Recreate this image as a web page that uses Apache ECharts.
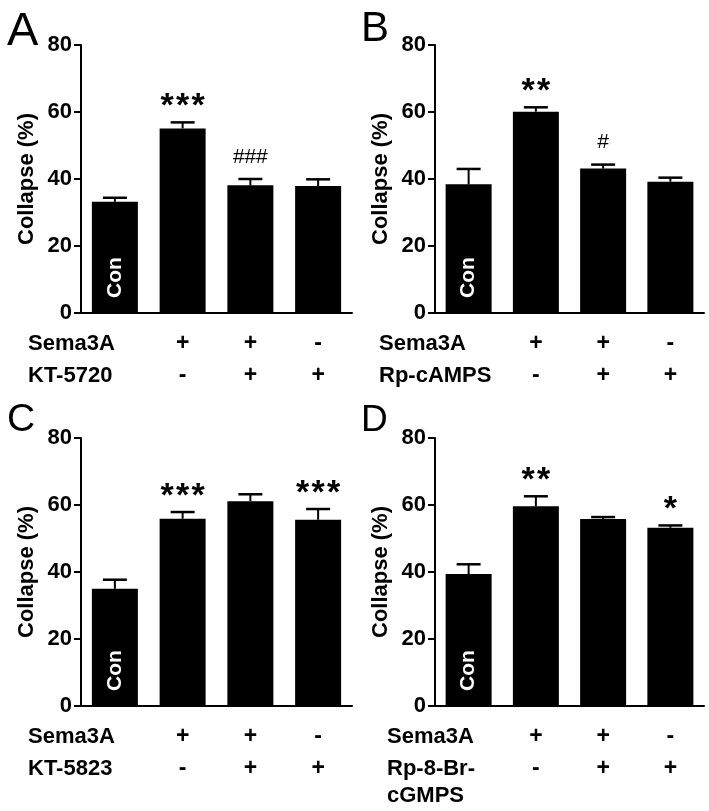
<!DOCTYPE html>
<html>
<head>
<meta charset="utf-8">
<script src="https://cdn.jsdelivr.net/npm/echarts@6/dist/echarts.min.js"></script>
<style>
html,body{margin:0;padding:0;background:#fff;}
#chart{width:709px;height:811px;}
</style>
</head>
<body>
<div id="chart"></div>
<script>
// ---- data ----
const panelLetters = ['A', 'B', 'C', 'D'];
const categories = ['Con', 'Sema3A', 'Sema3A+Drug', 'Drug'];
const conLabel = 'Con';
const yAxisName = 'Collapse (%)';
const semaRowLabel = 'Sema3A';
const drugRowLabels = [['KT-5720'], ['Rp-cAMPS'], ['KT-5823'], ['Rp-8-Br-', 'cGMPS']];
const semaSigns = ['', '+', '+', '-'];
const drugSigns = ['', '-', '+', '+'];

const meansA = [33.2, 55.1, 38.1, 37.9];
const semA   = [1.2, 1.8, 1.9, 2.0];
const annA   = ['', '***', '###', ''];

const meansB = [38.4, 60.1, 43.1, 39.2];
const semB   = [4.6, 1.3, 1.2, 1.2];
const annB   = ['', '**', '#', ''];

const meansC = [35.0, 55.9, 61.1, 55.6];
const semC   = [2.7, 2.0, 2.1, 3.2];
const annC   = ['', '***', '', '***'];

const meansD = [39.4, 59.6, 55.8, 53.2];
const semD   = [2.9, 3.0, 0.6, 0.7];
const annD   = ['', '**', '', '*'];

const yMin = 0, yMax = 80, yInterval = 20;

// ---- layout ----
const FONT = '"Liberation Sans", Arial, Helvetica, sans-serif';
const grids = [
  {left: 81, top: 45, width: 271, height: 268},
  {left: 435, top: 45, width: 269, height: 268},
  {left: 81, top: 438, width: 271, height: 268},
  {left: 435, top: 438, width: 269, height: 268}
];
const panelData = [
  {means: meansA, sem: semA, ann: annA},
  {means: meansB, sem: semB, ann: annB},
  {means: meansC, sem: semC, ann: annC},
  {means: meansD, sem: semD, ann: annD}
];
const letterStyle = [
  {x: 7, y: 47, size: 47},
  {x: 361, y: 43, size: 42},
  {x: 7, y: 433, size: 39},
  {x: 361, y: 433, size: 37}
];
const rowLabelX = [28, 379, 28, 387];

const xAxes = [], yAxes = [], series = [], graphics = [];

grids.forEach((g, p) => {
  xAxes.push({
    type: 'category', gridIndex: p, data: categories, boundaryGap: true,
    axisLine: {show: true, lineStyle: {color: '#000', width: 2}},
    axisTick: {show: false},
    axisLabel: {
      interval: 0, margin: 15,
      formatter: (v, i) => semaSigns[i] + '\n' + drugSigns[i],
      color: '#000', fontFamily: FONT, fontWeight: 'bold', fontSize: 23, lineHeight: 32
    },
    splitLine: {show: false}
  });
  yAxes.push({
    type: 'value', gridIndex: p, min: yMin, max: yMax, interval: yInterval,
    name: yAxisName, nameLocation: 'middle', nameGap: 43, nameRotate: 90,
    nameTextStyle: {color: '#000', fontFamily: FONT, fontWeight: 'bold', fontSize: 22},
    axisLine: {show: true, lineStyle: {color: '#000', width: 2}},
    axisTick: {show: true, inside: false, length: 7, lineStyle: {color: '#000', width: 2}},
    axisLabel: {margin: 9, color: '#000', fontFamily: FONT, fontWeight: 'bold', fontSize: 22},
    splitLine: {show: false}
  });
  const d = panelData[p];
  series.push({
    type: 'bar', xAxisIndex: p, yAxisIndex: p, barWidth: 46, z: 3,
    itemStyle: {color: '#000'},
    data: d.means.map((v, i) => i === 0 ? {
      value: v,
      label: {
        show: true, position: 'insideBottom', distance: 15, rotate: 90,
        align: 'left', verticalAlign: 'middle',
        formatter: conLabel, color: '#fff', fontFamily: FONT, fontWeight: 'bold', fontSize: 21
      }
    } : v)
  });
  series.push({
    type: 'custom', xAxisIndex: p, yAxisIndex: p, z: 2, clip: false,
    data: d.means.map((v, i) => [i, v, d.sem[i]]),
    renderItem: (params, api) => {
      const idx = api.value(0);
      const x = api.coord([idx, 0])[0];
      const yMean = api.coord([idx, api.value(1)])[1];
      const yTop = api.coord([idx, api.value(1) + api.value(2)])[1];
      const children = [
        {type: 'line', shape: {x1: x, y1: yMean, x2: x, y2: yTop}, style: {stroke: '#000', lineWidth: 2}},
        {type: 'line', shape: {x1: x - 12, y1: yTop, x2: x + 12, y2: yTop}, style: {stroke: '#000', lineWidth: 2.5}}
      ];
      const ann = d.ann[params.dataIndex];
      if (ann) {
        const chars = ann.split('');
        const isStar = chars[0] === '*';
        const pitch = isStar ? 15.5 : 11.5;
        chars.forEach((c, k) => {
          children.push({
            type: 'text',
            style: {
              text: c,
              x: x + (k - (chars.length - 1) / 2) * pitch,
              y: isStar ? yTop - 15.5 : yTop - 22,
              align: 'center', verticalAlign: 'middle',
              fill: '#000',
              font: isStar ? ('bold 34px ' + FONT) : ('normal 21px ' + FONT)
            }
          });
        });
      }
      return {type: 'group', children: children};
    }
  });
  // panel letter
  graphics.push({
    type: 'text', x: letterStyle[p].x, y: letterStyle[p].y - letterStyle[p].size * 0.82,
    style: {text: panelLetters[p], fill: '#000', font: 'normal ' + letterStyle[p].size + 'px ' + FONT,
            verticalAlign: 'top', align: 'left'}
  });
  // row labels
  const axisY = g.top + g.height;
  graphics.push({
    type: 'text', x: rowLabelX[p], y: axisY + 31,
    style: {text: semaRowLabel, fill: '#000', font: 'bold 22px ' + FONT, verticalAlign: 'middle', align: 'left'}
  });
  drugRowLabels[p].forEach((line, li) => {
    graphics.push({
      type: 'text', x: rowLabelX[p], y: axisY + 63 + li * 27,
      style: {text: line, fill: '#000', font: 'bold 22px ' + FONT, verticalAlign: 'middle', align: 'left'}
    });
  });
});

const chart = echarts.init(document.getElementById('chart'), null, {renderer: 'canvas'});
chart.setOption({
  animation: false,
  backgroundColor: '#fff',
  grid: grids.map(g => Object.assign({containLabel: false}, g)),
  xAxis: xAxes,
  yAxis: yAxes,
  series: series,
  graphic: graphics
});
</script>
</body>
</html>
